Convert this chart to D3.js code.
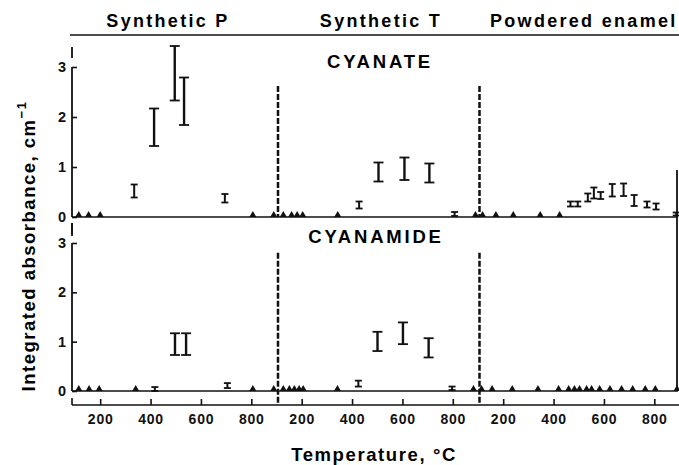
<!DOCTYPE html>
<html>
<head>
<meta charset="utf-8">
<script src="https://cdnjs.cloudflare.com/ajax/libs/d3/7.8.5/d3.min.js"></script>
<style>
body { margin: 0; background: #fff; }
svg { display: block; font-family: "Liberation Sans", Arial, sans-serif; font-weight: bold; }
</style>
</head>
<body>
<svg id="chart" width="679" height="465"></svg>
<script>
const segments = ["Synthetic P", "Synthetic T", "Powdered enamel"];
const panels = ["CYANATE", "CYANAMIDE"];
const tempTicks = [200, 400, 600, 800];
const absTicks = [0, 1, 2, 3];

// error bars: [segment, temperature °C, low, high]
const cyanateBars = [
    [0, 335, 0.39, 0.65], [0, 414, 1.42, 2.17], [0, 496, 2.33, 3.42],
    [0, 533, 1.84, 2.79], [0, 695, 0.29, 0.46],
    [1, 428, 0.17, 0.31], [1, 505, 0.71, 1.09], [1, 608, 0.74, 1.19],
    [1, 707, 0.69, 1.07], [1, 807, 0.02, 0.10],
    [2, 467, 0.21, 0.31], [2, 496, 0.21, 0.31], [2, 536, 0.31, 0.47],
    [2, 560, 0.37, 0.59], [2, 587, 0.36, 0.50], [2, 633, 0.41, 0.66],
    [2, 678, 0.42, 0.67], [2, 720, 0.22, 0.44], [2, 771, 0.19, 0.31],
    [2, 807, 0.15, 0.27], [2, 887, 0.03, 0.09],
];
// not detected: [segment, temperature °C]
const cyanateZeros = [
    [0, 115], [0, 154], [0, 200], [0, 806], [0, 889],
    [1, 127], [1, 160], [1, 182], [1, 204], [1, 343], [1, 890],
    [2, 118], [2, 171], [2, 240], [2, 347], [2, 424],
];
const cyanamideBars = [
    [0, 417, 0.0, 0.08], [0, 497, 0.73, 1.17], [0, 541, 0.73, 1.17],
    [0, 705, 0.06, 0.16],
    [1, 425, 0.09, 0.21], [1, 501, 0.81, 1.20], [1, 602, 0.95, 1.39],
    [1, 704, 0.68, 1.07], [1, 797, 0.02, 0.09],
];
const cyanamideZeros = [
    [0, 115], [0, 156], [0, 196], [0, 341], [0, 806], [0, 889],
    [1, 127], [1, 151], [1, 171], [1, 190], [1, 206], [1, 342], [1, 882],
    [2, 114], [2, 156], [2, 236], [2, 338], [2, 420], [2, 460], [2, 483],
    [2, 503], [2, 531], [2, 551], [2, 583], [2, 624], [2, 670], [2, 714],
    [2, 764], [2, 804], [2, 890],
];

const svg = d3.select('#chart');
const axisX = 72;
const segW = 201.5;
const xs = segments.map((s, i) => d3.scaleLinear()
    .domain([100, 900])
    .range([75 + i * segW, 75 + (i + 1) * segW]));

const panelCfg = [
    {name: panels[0], bars: cyanateBars, zeros: cyanateZeros, top: 67, zero: 217, dashTop: 2.62, dashBottom: 217, titleX: 380, titleY: 68},
    {name: panels[1], bars: cyanamideBars, zeros: cyanamideZeros, top: 243, zero: 391, dashTop: 2.8, dashBottom: 404, titleX: 376, titleY: 243},
];

// segment headings + rule
const headX = [168, 381, 490];
svg.selectAll('.seghead')
    .data(segments).enter().append('text')
    .attr('class', 'seghead')
    .attr('x', (d, i) => headX[i])
    .attr('y', 27)
    .attr('text-anchor', (d, i) => i == 2 ? 'start' : 'middle')
    .style('font-size', '18px')
    .style('letter-spacing', '2.3px')
    .text(d => d);
svg.append('line')
    .attr('x1', 70).attr('x2', 679).attr('y1', 35).attr('y2', 35)
    .style('stroke', '#111').style('stroke-width', 1.6);

const tri = 'M-3.5,0L0,-6L3.5,0Z';

panelCfg.forEach((p) => {
    const y = d3.scaleLinear().domain([0, 3]).range([p.zero, p.top]);
    const g = svg.append('g').attr('class', 'panel');

    g.append('text')
        .attr('x', p.titleX).attr('y', p.titleY)
        .attr('text-anchor', 'middle')
        .style('font-size', '18.5px')
        .style('letter-spacing', '2.8px')
        .text(p.name);

    // baseline
    g.append('line')
        .attr('x1', axisX).attr('x2', 678)
        .attr('y1', y(0)).attr('y2', y(0))
        .style('stroke', '#111').style('stroke-width', 1.6);

    // y axis
    g.append('line')
        .attr('x1', axisX).attr('x2', axisX)
        .attr('y1', y(3)).attr('y2', y(0))
        .style('stroke', '#111').style('stroke-width', 1.8);
    g.append('line')
        .attr('x1', axisX).attr('x2', axisX)
        .attr('y1', y(3) - 20).attr('y2', y(3) - 9)
        .style('stroke', '#111').style('stroke-width', 1.8);
    const ya = g.append('g')
        .attr('transform', `translate(${axisX},0)`)
        .call(d3.axisLeft(y).tickValues(absTicks).tickSize(-5).tickPadding(6).tickFormat(d3.format('d')));
    ya.select('.domain').remove();
    ya.selectAll('.tick line').style('stroke', '#111').style('stroke-width', 1.6);
    ya.selectAll('text').style('font-size', '14.5px').style('font-family', 'inherit').style('font-weight', 'bold').style('fill', '#111');

    // dashed segment dividers
    g.selectAll('.divider')
        .data([1, 2]).enter().append('line')
        .attr('class', 'divider')
        .attr('x1', d => xs[d](100) + 1.5).attr('x2', d => xs[d](100) + 1.5)
        .attr('y1', y(p.dashTop)).attr('y2', p.dashBottom)
        .style('stroke', '#111').style('stroke-width', 2.5)
        .style('stroke-dasharray', '6,2');

    // not detected markers
    g.selectAll('.zero')
        .data(p.zeros).enter().append('path')
        .attr('class', 'zero')
        .attr('d', tri)
        .attr('transform', d => `translate(${xs[d[0]](d[1])},${y(0)})`)
        .style('fill', '#111');

    // error bars
    const bar = g.selectAll('.bar')
        .data(p.bars).enter().append('g')
        .attr('class', 'bar')
        .attr('transform', d => `translate(${xs[d[0]](d[1])},0)`);
    const capW = d => (d[3] - d[2]) > 0.3 ? 10 : 7;
    bar.append('line')
        .attr('y1', d => y(d[2])).attr('y2', d => y(d[3]))
        .style('stroke', '#111').style('stroke-width', d => (d[3] - d[2]) > 0.3 ? 2.4 : 2);
    bar.selectAll('.cap')
        .data(d => [[d, d[2]], [d, d[3]]]).enter().append('line')
        .attr('class', 'cap')
        .attr('x1', c => -capW(c[0]) / 2).attr('x2', c => capW(c[0]) / 2)
        .attr('y1', c => y(c[1])).attr('y2', c => y(c[1]))
        .style('stroke', '#111').style('stroke-width', 1.8);
});

// small stub between panels and right frame
svg.append('line')
    .attr('x1', axisX).attr('x2', axisX).attr('y1', 223).attr('y2', 236)
    .style('stroke', '#111').style('stroke-width', 1.8);
svg.append('line')
    .attr('x1', 677).attr('x2', 677).attr('y1', 170).attr('y2', 391)
    .style('stroke', '#111').style('stroke-width', 1.8);

// temperature axis
const axisY = 405;
svg.append('line')
    .attr('x1', axisX).attr('x2', 679).attr('y1', axisY).attr('y2', axisY)
    .style('stroke', '#111').style('stroke-width', 1.6);
svg.append('line')
    .attr('x1', axisX).attr('x2', axisX).attr('y1', axisY - 7).attr('y2', axisY)
    .style('stroke', '#111').style('stroke-width', 1.6);
xs.forEach((x) => {
    const xa = svg.append('g')
        .attr('transform', `translate(0,${axisY})`)
        .call(d3.axisBottom(x).tickValues(tempTicks).tickSize(-6).tickPadding(9).tickSizeOuter(0));
    xa.select('.domain').remove();
    xa.selectAll('.tick line').style('stroke', '#111').style('stroke-width', 1.6);
    xa.selectAll('text').style('font-size', '14px').style('font-family', 'inherit').style('font-weight', 'bold')
        .style('letter-spacing', '0.8px').style('fill', '#111');
});

svg.append('text')
    .attr('x', 374).attr('y', 461)
    .attr('text-anchor', 'middle')
    .style('font-size', '18.5px')
    .style('letter-spacing', '1.6px')
    .text('Temperature, °C');

const ylab = svg.append('text')
    .attr('transform', 'translate(35,246) rotate(-90)')
    .attr('text-anchor', 'middle')
    .style('font-size', '18.5px')
    .style('letter-spacing', '1.5px');
ylab.append('tspan').text('Integrated absorbance, cm');
ylab.append('tspan').attr('dy', -9).style('font-size', '13px').text('−1');
</script>
</body>
</html>
